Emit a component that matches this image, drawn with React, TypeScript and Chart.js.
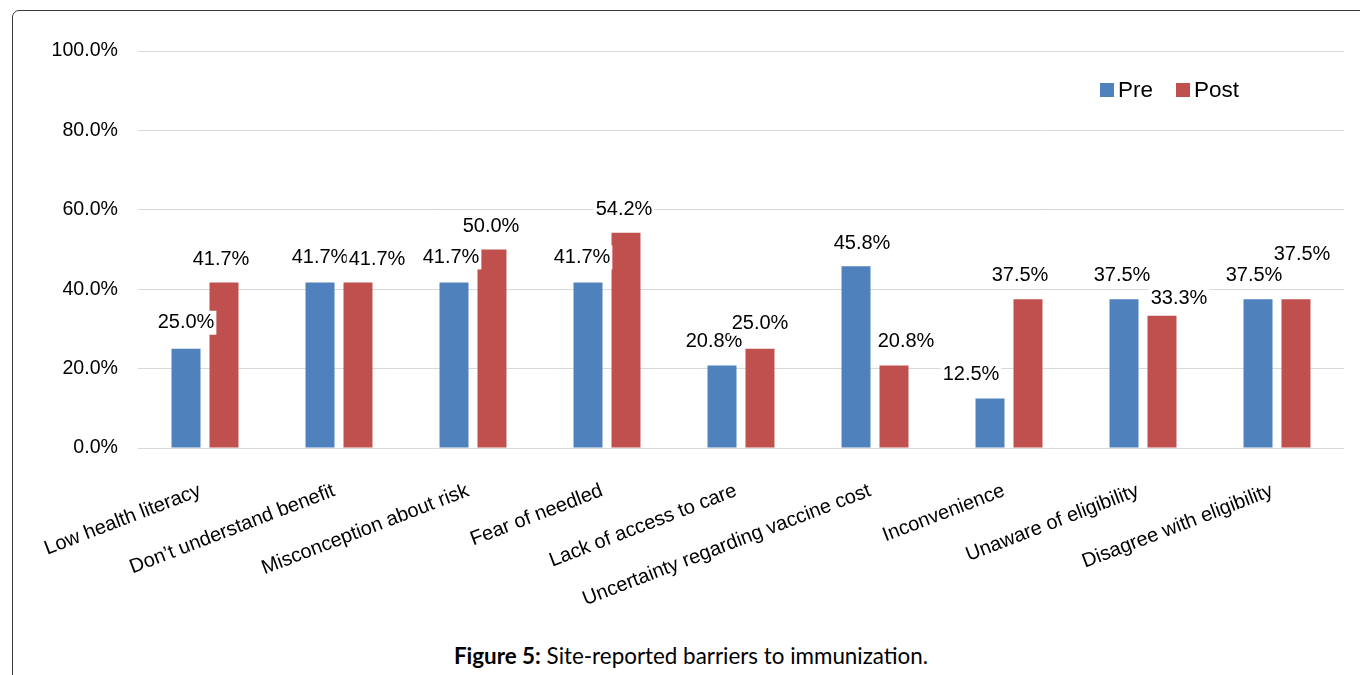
import React, { useEffect, useRef } from "react";
import { Chart, registerables } from "chart.js";

Chart.register(...registerables);

const categories = [
  "Low health literacy",
  "Don\u2019t understand benefit",
  "Misconception about risk",
  "Fear of needled",
  "Lack of access to care",
  "Uncertainty regarding vaccine cost",
  "Inconvenience",
  "Unaware of eligibility",
  "Disagree with eligibility",
];

const preValues = [25.0, 41.7, 41.7, 41.7, 20.8, 45.8, 12.5, 37.5, 37.5];
const postValues = [41.7, 41.7, 50.0, 54.2, 25.0, 20.8, 37.5, 33.3, 37.5];

const yTicks = [0, 20, 40, 60, 80, 100];

// Per-label nudges (px) applied to the value labels, relative to their default spot above each bar
const preLabelShiftX = [0, 0, -3, -6, -8, 6, -19, -2, -4];
const preLabelShiftY = [-2, -1, -1, -1, 0, 1, 0, 0, 0];
const postLabelShiftX = [-3, 19, -1, -2, 0, 12, -8, 17, 6];
const postLabelShiftY = [1, 1, 1, 1, -1, 0, 0, 7, -21];

const BLUE = "#4f81bd";
const RED = "#c0504d";
const FONT = "Liberation Sans";

const valueLabels = {
  id: "valueLabels",
  afterDatasetsDraw(chart: any) {
    const ctx = chart.ctx;
    ctx.save();
    ctx.font = `20px "${FONT}"`;
    ctx.textAlign = "center";
    ctx.textBaseline = "middle";
    chart.data.datasets.forEach((ds: any, di: number) => {
      const meta = chart.getDatasetMeta(di);
      const sx = di === 0 ? preLabelShiftX : postLabelShiftX;
      const sy = di === 0 ? preLabelShiftY : postLabelShiftY;
      meta.data.forEach((bar: any, i: number) => {
        const text = ds.data[i].toFixed(1) + "%";
        const x = bar.x + sx[i];
        const y = bar.y - 24 + sy[i];
        const w = ctx.measureText(text).width;
        ctx.fillStyle = "#ffffff";
        ctx.fillRect(x - w / 2 - 2, y - 12, w + 4, 24);
        ctx.fillStyle = "#000000";
        ctx.fillText(text, x, y);
      });
    });
    ctx.restore();
  },
};

const innerLegend = {
  id: "innerLegend",
  afterDraw(chart: any) {
    const ctx = chart.ctx;
    ctx.save();
    ctx.font = `22.5px "${FONT}"`;
    ctx.textBaseline = "middle";
    ctx.textAlign = "left";
    const y = 90;
    let x = 1100;
    chart.data.datasets.forEach((ds: any) => {
      ctx.fillStyle = ds.backgroundColor;
      ctx.fillRect(x, y - 7, 14, 14);
      ctx.fillStyle = "#000000";
      ctx.fillText(ds.label, x + 18, y + 1);
      x += 18 + ctx.measureText(ds.label).width + 23;
    });
    ctx.restore();
  },
};

export default function App() {
  const canvasRef = useRef<HTMLCanvasElement | null>(null);

  useEffect(() => {
    if (!canvasRef.current) return;
    const chart = new Chart(canvasRef.current, {
      type: "bar",
      data: {
        labels: categories,
        datasets: [
          { label: "Pre", data: preValues, backgroundColor: BLUE },
          { label: "Post", data: postValues, backgroundColor: RED },
        ],
      },
      options: {
        animation: false,
        responsive: false,
        maintainAspectRatio: false,
        layout: { padding: { top: 51, right: 16, left: 0, bottom: 0 } },
        datasets: {
          bar: { categoryPercentage: 0.567, barPercentage: 0.763 },
        },
        plugins: {
          legend: { display: false },
          tooltip: { enabled: false },
        },
        scales: {
          x: {
            grid: { display: false },
            border: { display: false },
            ticks: {
              minRotation: 21,
              maxRotation: 21,
              autoSkip: false,
              padding: 23,
              labelOffset: -5,
              color: "#000000",
              font: { family: FONT, size: 20 },
            },
            afterFit(scale: any) {
              scale.height = 620 - 448;
            },
          },
          y: {
            min: 0,
            max: 100,
            afterBuildTicks(scale: any) {
              scale.ticks = yTicks.map((v) => ({ value: v }));
            },
            grid: { color: "#d9d9d9", lineWidth: 1, drawTicks: false },
            border: { display: false },
            ticks: {
              padding: 20,
              color: "#000000",
              font: { family: FONT, size: 19.6 },
              callback: (v: any) => Number(v).toFixed(1) + "%",
            },
            afterFit(scale: any) {
              scale.width = 138;
            },
          },
        },
      },
      plugins: [valueLabels, innerLegend],
    });
    let alive = true;
    document.fonts.load(`18px "${FONT}"`).then(() => {
      if (alive) chart.update();
    });
    return () => {
      alive = false;
      chart.destroy();
    };
  }, []);

  return (
    <div
      style={{
        position: "absolute",
        left: 0,
        top: 0,
        width: 1360,
        height: 675,
        overflow: "hidden",
        background: "#ffffff",
      }}
    >
      <div
        style={{
          position: "absolute",
          left: 12,
          top: 10,
          width: 1400,
          height: 700,
          border: "1.5px solid #3a3a3a",
          borderTopLeftRadius: 7,
          boxSizing: "border-box",
        }}
      />
      <canvas
        ref={canvasRef}
        width={1360}
        height={620}
        style={{ position: "absolute", left: 0, top: 0, width: 1360, height: 620 }}
      />
      <div
        style={{
          position: "absolute",
          left: 0,
          width: 1382,
          top: 642,
          textAlign: "center",
          fontFamily: "Lato, 'Open Sans', sans-serif",
          fontSize: 22.4,
          color: "#000000",
        }}
      >
        <b>Figure 5:</b> Site-reported barriers to immunization.
      </div>
    </div>
  );
}
